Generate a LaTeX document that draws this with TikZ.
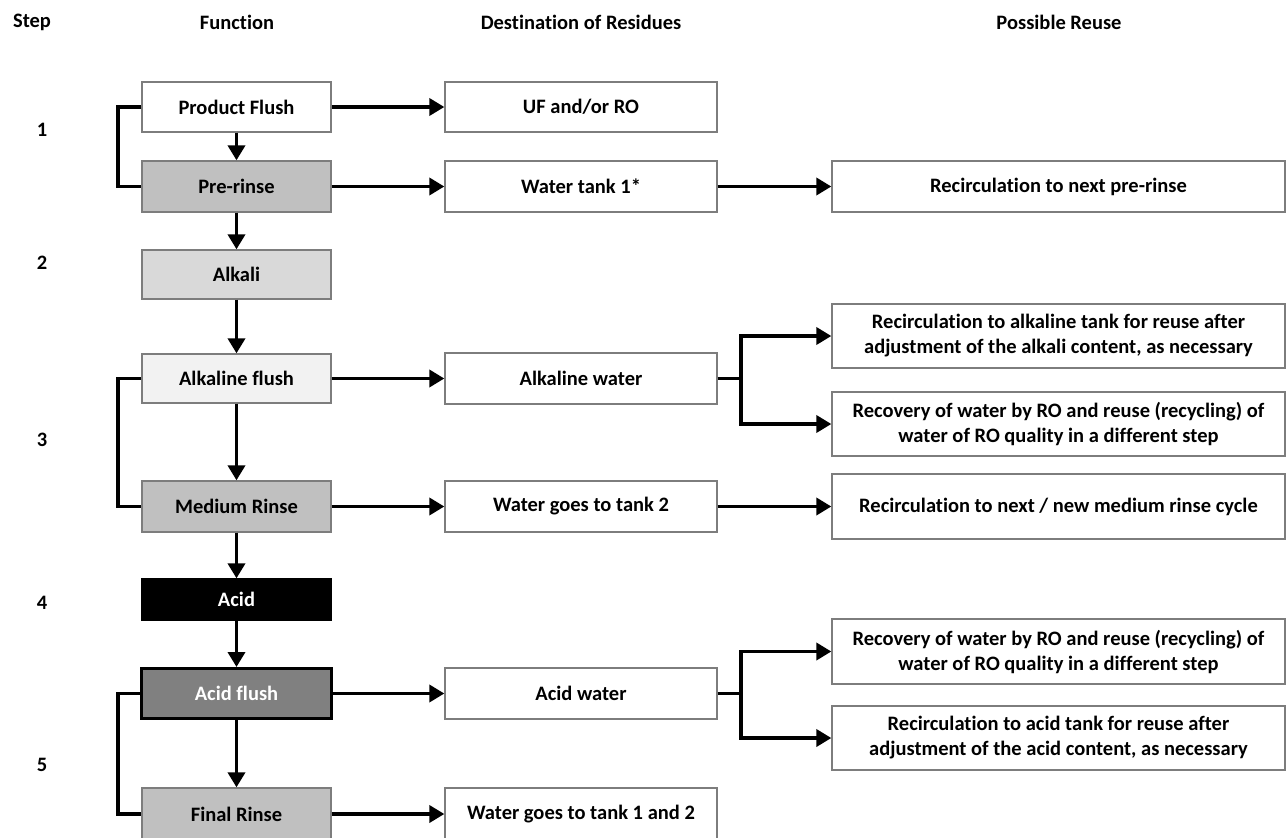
\documentclass[tikz,border=0pt]{standalone}
\usepackage{fontspec}
\setmainfont{Carlito}[Ligatures=NoCommon]
\usetikzlibrary{arrows.meta}
\definecolor{bordergray}{RGB}{125,125,125}
\definecolor{prgray}{RGB}{192,192,192}
\definecolor{alkgray}{RGB}{217,217,217}
\definecolor{afgray}{RGB}{242,242,242}
\definecolor{acfgray}{RGB}{128,128,128}
\tikzset{
  box/.style={draw=bordergray, line width=1.3pt, fill=white, inner sep=0pt,
    align=center, font=\fontsize{20.5}{25}\selectfont\bfseries},
  fbox/.style={box, minimum width=189pt},
  dbox/.style={box, minimum width=272pt},
  rbox/.style={box, minimum width=453pt},
  flow/.style={line width=3.6pt, -{Triangle[length=15pt,width=17pt]}},
  brk/.style={line width=3.6pt},
  hdr/.style={font=\fontsize{20.5}{25}\selectfont\bfseries, inner sep=0pt},
}
\begin{document}
\begin{tikzpicture}[x=1pt,y=-1pt]
\useasboundingbox (0,0) rectangle (1286,838);
\fill[white] (0,0) rectangle (1286,838);
% headers
\node[hdr] (hstep) at (32,22) {Step};
\node[hdr] (hfun) at (237,22) {Function};
\node[hdr] (hdest) at (581,22) {Destination of Residues};
\node[hdr] (hreuse) at (1059,22) {Possible Reuse};
% step numbers
\node[hdr] (s1) at (42,130) {1};
\node[hdr] (s2) at (42,263) {2};
\node[hdr] (s3) at (42,440) {3};
\node[hdr] (s4) at (42,603) {4};
\node[hdr] (s5) at (42,765) {5};
% function column
\node[fbox, minimum height=50pt] (pf) at (236.5,107) {Product Flush};
\node[fbox, minimum height=51pt, fill=prgray] (pr) at (236.5,186.5) {Pre-rinse};
\node[fbox, minimum height=49pt, fill=alkgray] (alk) at (236.5,274.5) {Alkali};
\node[fbox, minimum height=49pt, fill=afgray] (af) at (236.5,378.5) {Alkaline flush};
\node[fbox, minimum height=51pt, fill=prgray] (mr) at (236.5,506.5) {Medium Rinse};
\node[fbox, minimum height=41pt, fill=black, draw=black, text=white] (acid) at (236.5,599.5) {Acid};
\node[fbox, minimum height=50pt, minimum width=190pt, fill=acfgray, draw=black, line width=3pt, text=white] (acf) at (236.5,693.5) {Acid flush};
\node[fbox, minimum height=52pt, fill=prgray] (fr) at (236.5,814) {Final Rinse};
% destination column
\node[dbox, minimum height=50pt] (uf) at (581,107) {UF and/or RO};
\node[dbox, minimum height=51pt] (wt1) at (581,186.5) {Water tank 1*};
\node[dbox, minimum height=51pt] (aw) at (581,378.5) {Alkaline water};
\node[dbox, minimum height=51pt] (wt2) at (581,506.5) {Water goes to tank 2};
\node[dbox, minimum height=51pt] (acw) at (581,693.5) {Acid water};
\node[dbox, minimum height=52pt] (wt12) at (581,814) {Water goes to tank 1 and 2};
% reuse column
\node[rbox, minimum height=51pt] (r1) at (1058.5,186.5) {Recirculation to next pre-rinse};
\node[rbox, minimum height=64pt] (r2) at (1058.5,336) {Recirculation to alkaline tank for reuse after\\adjustment of the alkali content, as necessary};
\node[rbox, minimum height=64pt] (r3) at (1058.5,424) {Recovery of water by RO and reuse (recycling) of\\water of RO quality in a different step};
\node[rbox, minimum height=65pt] (r4) at (1058.5,506.5) {Recirculation to next / new medium rinse cycle};
\node[rbox, minimum height=65pt] (r5) at (1058.5,651.5) {Recovery of water by RO and reuse (recycling) of\\water of RO quality in a different step};
\node[rbox, minimum height=64pt] (r6) at (1058.5,738) {Recirculation to acid tank for reuse after\\adjustment of the acid content, as necessary};
% vertical flow
\draw[flow] (pf) -- (pr);
\draw[flow] (pr) -- (alk);
\draw[flow] (alk) -- (af);
\draw[flow] (af) -- (mr);
\draw[flow] (mr) -- (acid);
\draw[flow] (acid) -- (acf);
\draw[flow] (acf) -- (fr);
% horizontal flow
\draw[flow] (pf.east) -- (uf.west);
\draw[flow] (pr.east) -- (wt1.west);
\draw[flow] (af.east) -- (aw.west);
\draw[flow] (mr.east) -- (wt2.west);
\draw[flow] (acf.east) -- (acw.west);
\draw[flow] (fr.east) -- (wt12.west);
\draw[flow] (wt1.east) -- (r1.west);
\draw[flow] (wt2.east) -- (r4.west);
% branches
\coordinate (ba) at (741,378.5);
\coordinate (bb) at (741,693.5);
\draw[brk] (aw.east) -- (ba);
\draw[flow] (ba) |- (r2.west);
\draw[flow] (ba) |- (r3.west);
\draw[brk] (acw.east) -- (bb);
\draw[flow] (bb) |- (r5.west);
\draw[flow] (bb) |- (r6.west);
% left brackets
\coordinate (l1) at (118,107);
\coordinate (l2) at (118,378.5);
\coordinate (l3) at (118,693.5);
\draw[brk] (pf.west) -- (l1) |- (pr.west);
\draw[brk] (af.west) -- (l2) |- (mr.west);
\draw[brk] (acf.west) -- (l3) |- (fr.west);
\end{tikzpicture}
\end{document}
